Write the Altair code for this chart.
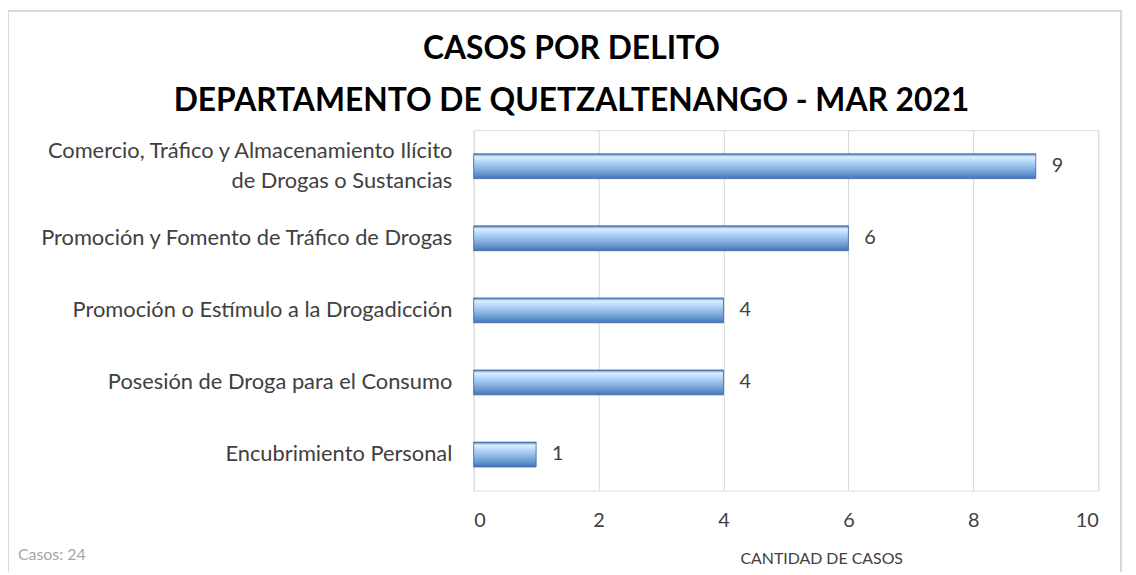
import altair as alt
import pandas as pd

categories = [
    "Comercio, Tráfico y Almacenamiento Ilícito|de Drogas o Sustancias",
    "Promoción y Fomento de Tráfico de Drogas",
    "Promoción o Estímulo a la Drogadicción",
    "Posesión de Droga para el Consumo",
    "Encubrimiento Personal",
]
values = [9, 6, 4, 4, 1]
x_ticks = [0, 2, 4, 6, 8, 10]

df = pd.DataFrame({"delito": categories, "casos": values})

FONT = "Lato"
FS = 22
W, H = 629, 363

grad = alt.LinearGradient(
    gradient="linear", x1=0, y1=0, x2=0, y2=1,
    stops=[
        alt.GradientStop(color="#4a7bbf", offset=0),
        alt.GradientStop(color="#dcefff", offset=0.12),
        alt.GradientStop(color="#b0d2f5", offset=0.35),
        alt.GradientStop(color="#78a5dc", offset=0.7),
        alt.GradientStop(color="#4475b8", offset=1),
    ],
)

y_enc = alt.Y(
    "delito:N", sort=categories, title=None,
    scale=alt.Scale(paddingInner=0.0, paddingOuter=0.0),
    axis=alt.Axis(
        labelExpr="split(datum.label, '|')", labelFont=FONT, labelFontSize=FS,
        labelColor="#404040", labelPadding=22, labelLineHeight=30,
        labelOffset={"condition": {"test": "indexof(datum.value, '|') >= 0", "value": -15}, "value": 0},
        ticks=False, domain=False, labelLimit=500,
    ),
)
x_enc = alt.X(
    "casos:Q", title="CANTIDAD DE CASOS",
    scale=alt.Scale(domain=[0, 10], nice=False),
    axis=alt.Axis(
        values=x_ticks, format="d", labelFont=FONT, labelFontSize=20,
        labelColor="#404040", labelPadding=20, ticks=False, domain=False,
        grid=True, gridColor="#d9d9d9",
        titleFont=FONT, titleFontSize=16, titleFontWeight="normal", titleColor="#404040",
        titleX=350, titleY=68, titleAlign="center", titleBaseline="middle",
    ),
)

bars = alt.Chart(df).mark_bar(size=25, color=grad, stroke="#3a659f", strokeWidth=0.8).encode(
    y=y_enc, x=x_enc
)
labels = alt.Chart(df).mark_text(
    align="left", baseline="middle", dx=16, font=FONT, fontSize=20, color="#404040"
).encode(y=alt.Y("delito:N", sort=categories), x="casos:Q", text="casos:Q")

total = alt.Chart(df).transform_aggregate(total="sum(casos)").transform_calculate(
    t="'Casos: ' + datum.total"
).mark_text(
    align="left", baseline="middle", font=FONT, fontSize=16, color="#a6a6a6"
).encode(x=alt.value(-459), y=alt.value(428), text="t:N")

frame = alt.Chart(df).mark_rect(
    fill=None, stroke="#d9d9d9", strokeWidth=2, clip=False
).encode(x=alt.value(-469), x2=alt.value(W + 23), y=alt.value(-120), y2=alt.value(H + 120))

chart = alt.layer(frame, bars, labels, total).properties(
    width=W, height=H,
    autosize=alt.AutoSizeParams(type="none"),
    padding={"left": 469, "top": 121, "right": 30, "bottom": 80},
    title=alt.TitleParams(
        text=["CASOS POR DELITO", "DEPARTAMENTO DE QUETZALTENANGO - MAR 2021"],
        font="Lato", fontSize=32, fontWeight="bold", color="#000000",
        anchor="middle", frame="group", dx=-216, offset=-124, baseline="middle",
        lineHeight=53,
    ),
).configure_view(stroke="#d9d9d9", strokeWidth=1.5).configure(background="white")

chart.save("out.html", embed_options={"renderer": "svg", "actions": False})
